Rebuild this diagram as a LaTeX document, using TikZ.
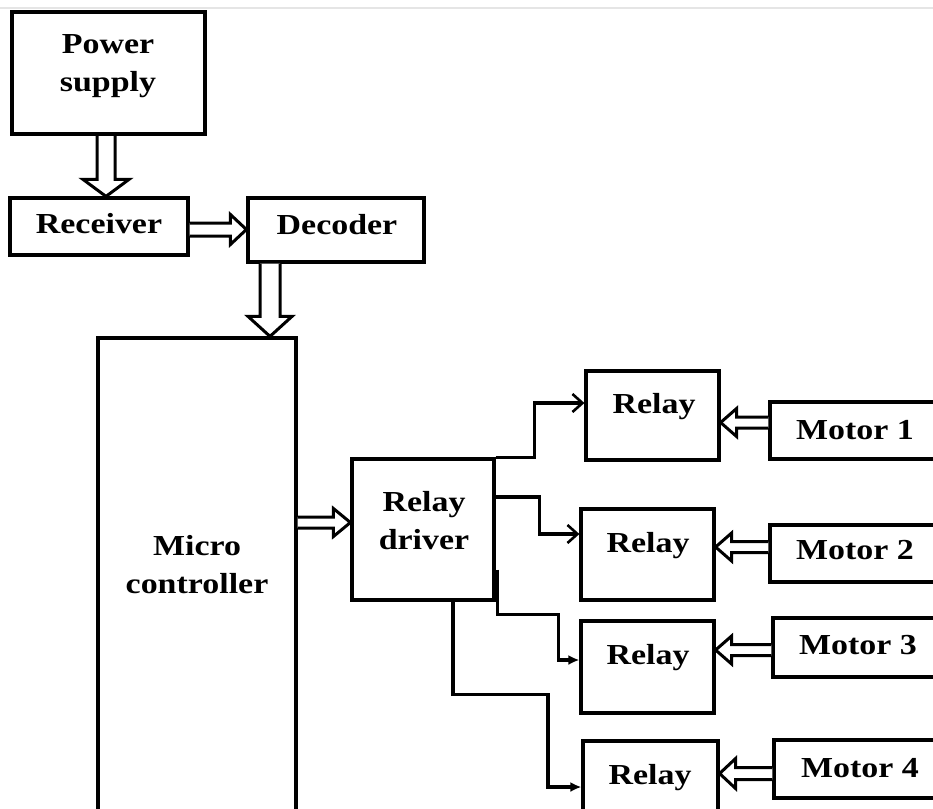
\documentclass[tikz,border=0pt]{standalone}
\usepackage{fontspec}
\setmainfont{Liberation Serif}[FakeStretch=1.17]
\usetikzlibrary{arrows.meta,calc}
\begin{document}
\begin{tikzpicture}[x=1pt,y=-1pt,
  box/.style={draw, line width=3.2pt, inner sep=0pt, fill=white},
  lbl/.style={font=\fontsize{29}{38}\selectfont\bfseries, align=center, inner sep=0pt},
  hollow/.style n args={3}{/utils/exec={\def\hw{#1}\def\hh{#2}\def\hl{#3}},
    draw, fill=white, line width=3pt, line join=miter,
    to path={let \p1=($(\tikztotarget)!\hl!(\tikztostart)$) in
      ($(\tikztostart)!\hw!90:(\tikztotarget)$) -- ($(\p1)!\hw!90:(\tikztotarget)$)
      -- ($(\p1)!\hh!90:(\tikztotarget)$) -- (\tikztotarget)
      -- ($(\p1)!\hh!-90:(\tikztotarget)$) -- ($(\p1)!\hw!-90:(\tikztotarget)$)
      -- ($(\tikztostart)!\hw!-90:(\tikztotarget)$)}},
  wire/.style={line width=3.2pt},
  opentip/.style={-{Straight Barb[length=10pt, width=18pt, line width=2.6pt]}},
  filltip/.style={-{Latex[length=11pt, width=10pt]}}]
\useasboundingbox (0,0) rectangle (933,808);
\clip (0,0) rectangle (933,808);
\fill[white] (0,0) rectangle (933,808);
\draw[line width=2pt, black!10] (0,8) -- (933,8);

% boxes
\node[box, line width=4pt, minimum width=193pt, minimum height=122pt] (ps) at (108.5,73) {};
\node[box, minimum width=178pt, minimum height=57pt] (rec) at (99,226.5) {};
\node[box, minimum width=176pt, minimum height=64pt] (dec) at (336,230) {};
\node[box, minimum width=198pt, minimum height=492pt] (mc) at (197,584) {};
\node[box, minimum width=142pt, minimum height=141pt] (rd) at (423,529.5) {};
\node[box, minimum width=133pt, minimum height=89pt] (r1) at (652.5,415.5) {};
\node[box, minimum width=133pt, minimum height=91pt] (r2) at (647.5,554.5) {};
\node[box, minimum width=133pt, minimum height=92pt] (r3) at (647.5,667) {};
\node[box, minimum width=135pt, minimum height=99pt] (r4) at (650.5,790.5) {};
\node[box, minimum width=190pt, minimum height=57pt] (m1) at (865,430.5) {};
\node[box, minimum width=190pt, minimum height=57pt] (m2) at (865,553.5) {};
\node[box, minimum width=187pt, minimum height=59pt] (m3) at (866.5,647.5) {};
\node[box, minimum width=186pt, minimum height=58pt] (m4) at (867,769) {};

% labels
\node[lbl] (tps) at (108,66) {Power\\supply};
\node[lbl] (trec) at (99,224) {Receiver};
\node[lbl] (tdec) at (337,225) {Decoder};
\node[lbl] (tmc) at (197,565) {Micro\\controller};
\node[lbl] (trd) at (424,521) {Relay\\driver};
\node[lbl] (tr1) at (654,407) {Relay};
\node[lbl] (tr2) at (648,546) {Relay};
\node[lbl] (tr3) at (648,658) {Relay};
\node[lbl] (tr4) at (650,778) {Relay};
\node[lbl] (tm1) at (855,430) {Motor 1};
\node[lbl] (tm2) at (855,550) {Motor 2};
\node[lbl] (tm3) at (858,645) {Motor 3};
\node[lbl] (tm4) at (860,768) {Motor 4};

% hollow arrows
\draw[hollow={9pt}{23pt}{17pt}] ([xshift=-2.5pt]ps.south) to ([xshift=-2.5pt]ps.south |- rec.north);
\draw[hollow={6.5pt}{15pt}{16pt}] ([yshift=-3pt]rec.east) to ([yshift=-3pt]rec.east -| dec.west);
\draw[hollow={10pt}{22pt}{20pt}] ([xshift=-66pt]dec.south) to ([xshift=-66pt]dec.south |- mc.north);
\draw[hollow={5.5pt}{14pt}{17pt}] ([yshift=7pt]rd.west -| mc.east) to ([yshift=7pt]rd.west);
\draw[hollow={5.5pt}{14pt}{16pt}] ([yshift=8pt]m1.west) to ([yshift=8pt]m1.west -| r1.east);
\draw[hollow={5.5pt}{14pt}{16pt}] ([yshift=6.5pt]m2.west) to ([yshift=6.5pt]m2.west -| r2.east);
\draw[hollow={5.5pt}{14pt}{16pt}] ([yshift=-2.5pt]m3.west) to ([yshift=-2.5pt]m3.west -| r3.east);
\draw[hollow={6pt}{15pt}{16pt}] ([yshift=-4.5pt]m4.west) to ([yshift=-4.5pt]m4.west -| r4.east);

% wires from relay driver
\draw[wire, opentip] (rd.north east) -- ++(39,0) |- ([yshift=12.5pt]r1.west);
\draw[wire, opentip] ([yshift=32.5pt]rd.east) -- ++(44,0) |- ([yshift=20.5pt]r2.west);
\draw[wire, filltip] ([xshift=1.5pt,yshift=32pt]rd.south east) -- ++(0,45) -- ++(61.5,0) |- ([yshift=7pt]r3.west);
\draw[wire, filltip] ([xshift=30pt]rd.south) -- ++(0,93) -- ++(95,0) |- ([yshift=3.5pt]r4.west);
\end{tikzpicture}
\end{document}
